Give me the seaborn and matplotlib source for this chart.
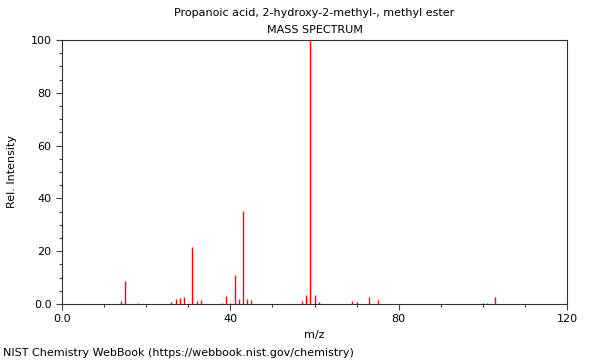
import matplotlib
matplotlib.use("Agg")
import matplotlib.pyplot as plt
import seaborn as sns
import pandas as pd
from matplotlib.ticker import MultipleLocator, FuncFormatter

title = "Propanoic acid, 2-hydroxy-2-methyl-, methyl ester"
subtitle = "MASS SPECTRUM"
footer = "NIST Chemistry WebBook (https://webbook.nist.gov/chemistry)"

mz = [14, 15, 18, 26, 27, 28, 29, 31, 32, 33, 38, 39, 40, 41, 42, 43, 44, 45,
      57, 58, 59, 60, 61, 69, 70, 73, 75, 100, 101, 103]
intensity = [1.0, 8.8, 0.5, 0.6, 1.9, 2.4, 2.6, 21.5, 1.1, 1.5, 0.5, 3.0, 0.5, 10.8,
             1.8, 35.2, 1.9, 1.6, 1.0, 3.4, 100.0, 3.4, 0.7, 1.1, 0.7, 2.6, 1.5,
             0.4, 0.4, 2.6]

df = pd.DataFrame({"mz": mz, "intensity": intensity})

sns.set_style("ticks")
plt.rcParams["font.family"] = ["DejaVu Sans"]
plt.rcParams["text.color"] = "black"
plt.rcParams["axes.labelcolor"] = "black"
plt.rcParams["xtick.color"] = "black"
plt.rcParams["ytick.color"] = "black"

fig = plt.figure(figsize=(6, 3.6), dpi=100)
ax = fig.add_axes([62 / 600, 1 - 304 / 360, (567 - 62) / 600, (304 - 40) / 360])

ax.vlines(df["mz"], 0, df["intensity"], color="#ff0000", linewidth=1)

ax.set_xlim(0, 120)
ax.set_ylim(0, 100)
ax.xaxis.set_major_locator(MultipleLocator(40))
ax.xaxis.set_minor_locator(MultipleLocator(10))
ax.yaxis.set_major_locator(MultipleLocator(20))
ax.yaxis.set_minor_locator(MultipleLocator(5))
fmt = FuncFormatter(lambda v, p: "0.0" if v == 0 else f"{int(v)}")
ax.xaxis.set_major_formatter(fmt)
ax.yaxis.set_major_formatter(fmt)
ax.tick_params(which="major", direction="out", length=4, width=0.8, labelsize=8,
               color="#444444", labelcolor="black")
ax.tick_params(which="minor", direction="out", length=2, width=0.8, color="#444444")
for s in ax.spines.values():
    s.set_visible(True)
    s.set_color("#333333")
    s.set_linewidth(0.8)

ax.set_xlabel("m/z", fontsize=8, color="black")
ax.set_ylabel("Rel. Intensity", fontsize=8, color="black", labelpad=10)

fig.text(314.5 / 600, 1 - 13 / 360, title, ha="center", va="center", fontsize=8, color="black")
fig.text(314.5 / 600, 1 - 30 / 360, subtitle, ha="center", va="center", fontsize=8, color="black")
fig.text(3 / 600, 1 - 353 / 360, footer, ha="left", va="center", fontsize=8, color="black")

fig.savefig("out.png", dpi=100)
